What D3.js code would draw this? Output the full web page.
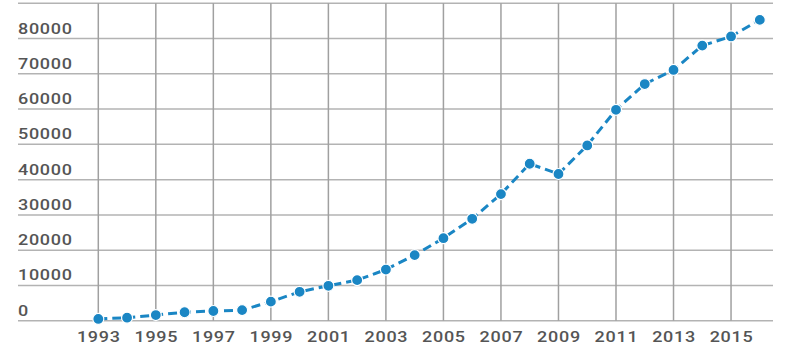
<!DOCTYPE html>
<html><head><meta charset="utf-8">
<script src="https://cdn.jsdelivr.net/npm/d3@7"></script>
<style>body{margin:0;background:#fff}svg{display:block}text{font-family:Roboto,"Open Sans",sans-serif}</style>
</head><body>
<svg id="c" width="806" height="346"></svg>
<script>
const years = [1993,1994,1995,1996,1997,1998,1999,2000,2001,2002,2003,2004,2005,2006,2007,2008,2009,2010,2011,2012,2013,2014,2015,2016];
const values = [500,850,1600,2400,2750,3000,5400,8200,9900,11500,14500,18600,23400,28900,35900,44500,41600,49700,59800,67100,71100,78000,80600,85300];
const yTicks = [0,10000,20000,30000,40000,50000,60000,70000,80000,90000];
const yLabels = ["0","10000","20000","30000","40000","50000","60000","70000","80000"];
const xTicks = [1993,1995,1997,1999,2001,2003,2005,2007,2009,2011,2013,2015];

const svg = d3.select("#c");
const x = d3.scaleLinear().domain([1993,2016]).range([98.3,759.8]);
const y = d3.scaleLinear().domain([0,90000]).range([320.7,3.3]);
const gridLeft = 18, gridRight = 773;

svg.append("g").selectAll("line").data(yTicks).join("line")
  .attr("x1",gridLeft).attr("x2",gridRight)
  .attr("y1",d=>y(d)).attr("y2",d=>y(d))
  .attr("stroke","#b3b3b3").attr("stroke-width",1.5);

svg.append("g").selectAll("line").data(xTicks).join("line")
  .attr("x1",d=>x(d)).attr("x2",d=>x(d))
  .attr("y1",y(90000)).attr("y2",y(0))
  .attr("stroke","#a0a0a0").attr("stroke-width",1.5);

svg.append("g").selectAll("text").data(yLabels).join("text")
  .attr("transform",(d,i)=>`translate(${gridLeft},${y(yTicks[i])-5}) scale(1.2,1)`)
  .attr("fill","#555").attr("font-size",15).attr("font-weight",500)
  .attr("letter-spacing",0.6).text(d=>d);

svg.append("g").selectAll("text").data(xTicks).join("text")
  .attr("transform",d=>`translate(${x(d)+0.5},341.5) scale(1.2,1)`).attr("text-anchor","middle")
  .attr("fill","#555").attr("font-size",15).attr("font-weight",500)
  .attr("letter-spacing",0.6).text(d=>d);

const data = years.map((yr,i)=>({yr,v:values[i]}));
svg.append("path").datum(data)
  .attr("d",d3.line().x(d=>x(d.yr)).y(d=>y(d.v)))
  .attr("fill","none").attr("stroke","#1a86c4").attr("stroke-width",3)
  .attr("stroke-dasharray","9,5");

svg.append("g").selectAll("circle").data(data).join("circle")
  .attr("cx",d=>x(d.yr)).attr("cy",d=>y(d.v)).attr("r",5.5)
  .attr("fill","#1a86c4").attr("stroke","#fff").attr("stroke-width",1.2);
</script>
</body></html>
